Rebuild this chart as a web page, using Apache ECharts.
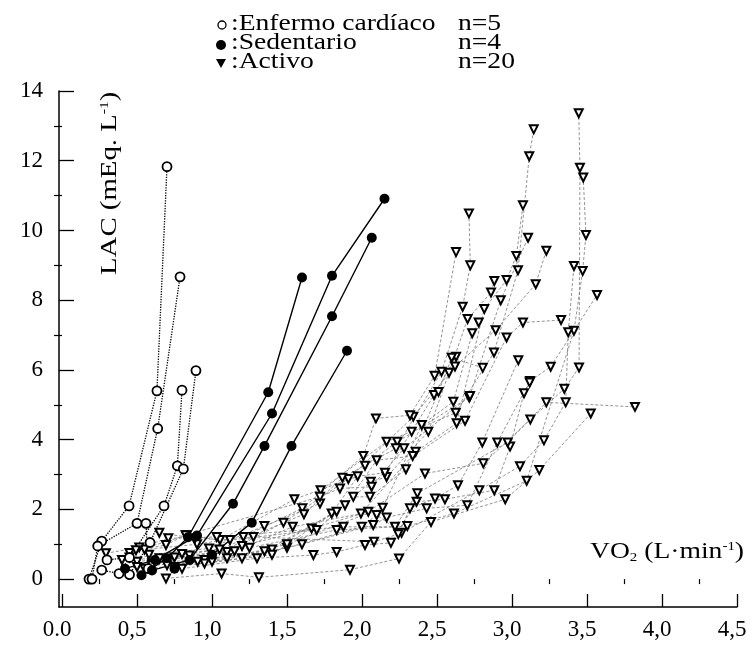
<!DOCTYPE html>
<html>
<head>
<meta charset="utf-8">
<script src="https://cdn.jsdelivr.net/npm/echarts@6/dist/echarts.min.js"></script>
<style>
html, body { margin: 0; padding: 0; background: #fff; }
#main { width: 752px; height: 648px; }
</style>
</head>
<body>
<div id="main"></div>
<script>
// tick labels (comma decimals, as in the figure)
var xTickValues = [0, 0.5, 1, 1.5, 2, 2.5, 3, 3.5, 4, 4.5];
var xTickLabels = ['0.0', '0,5', '1,0', '1,5', '2,0', '2,5', '3,0', '3,5', '4,0', '4,5'];
var xMinorValues = [0.25, 0.75, 1.25, 1.75, 2.25, 2.75, 3.25, 3.75, 4.25];
var yTickValues = [0, 2, 4, 6, 8, 10, 12, 14];
var yMinorValues = [1, 3, 5, 7, 9, 11, 13];

// [VO2, LAC] per subject
var enfermo = [
  [[0.18, 0.00], [0.265, 1.09], [0.447, 2.10], [0.633, 5.40], [0.70, 11.83]],
  [[0.20, 0.00], [0.238, 0.95], [0.50, 1.60], [0.638, 4.32], [0.787, 8.67]],
  [[0.265, 0.26], [0.38, 0.16], [0.68, 2.10], [0.769, 3.25], [0.80, 5.42]],
  [[0.45, 0.13], [0.587, 1.05], [0.809, 3.16], [0.893, 5.98]],
  [[0.30, 0.55], [0.45, 0.62], [0.575, 0.30], [0.56, 1.60]]
];

var sedentario = [
  [[0.42, 0.30], [0.62, 0.55], [0.90, 1.25], [1.40, 4.75], [1.80, 8.70], [2.15, 10.91]],
  [[0.53, 0.11], [0.70, 0.60], [0.84, 1.20], [1.375, 5.36], [1.60, 8.65]],
  [[0.60, 0.25], [0.85, 0.55], [1.14, 2.16], [1.35, 3.82], [1.80, 7.54], [2.065, 9.79]],
  [[0.75, 0.30], [1.00, 0.70], [1.265, 1.62], [1.53, 3.82], [1.90, 6.55]]
];

var activo = [
  [[0.45, 0.62], [0.80, 0.72], [1.20, 0.95], [1.664, 1.45], [2.042, 1.93], [2.42, 3.03], [2.809, 3.32], [3.122, 4.58], [3.349, 5.46], [3.447, 6.07], [3.453, 11.80], [3.445, 13.36]],
  [[0.50, 0.50], [0.85, 0.68], [1.25, 0.90], [1.831, 1.41], [2.302, 1.52], [2.613, 1.88], [3.098, 2.82], [3.413, 7.12], [3.471, 8.84], [3.493, 9.87], [3.475, 11.52]],
  [[0.58, 0.70], [0.98, 0.88], [1.349, 1.52], [1.72, 2.17], [1.724, 2.55], [2.164, 3.94], [2.625, 4.77], [2.88, 6.50], [3.04, 8.86], [3.115, 12.13], [3.145, 12.90]],
  [[0.40, 0.55], [0.75, 0.62], [1.15, 0.80], [1.538, 1.50], [1.993, 1.88], [2.358, 3.65], [2.631, 4.47], [2.815, 7.75], [2.964, 8.58], [3.029, 9.27], [3.073, 10.72]],
  [[0.60, 0.45], [1.00, 0.60], [1.40, 0.85], [1.798, 1.88], [2.02, 3.25], [2.235, 3.94], [2.715, 5.21], [2.925, 8.00], [3.107, 9.79]],
  [[0.70, 0.55], [1.10, 0.78], [1.476, 1.62], [1.909, 2.87], [2.342, 4.66], [2.62, 6.10], [2.891, 7.14], [3.158, 8.46], [3.229, 9.42]],
  [[0.55, 0.85], [0.90, 1.00], [1.209, 1.21], [1.602, 2.03], [2.009, 3.53], [2.093, 4.61], [2.32, 4.70], [2.484, 5.83], [2.627, 9.38]],
  [[0.65, 0.60], [1.05, 0.85], [1.613, 1.86], [1.869, 2.91], [2.227, 3.75], [2.53, 5.95], [2.671, 7.81], [2.722, 9.00], [2.713, 10.49]],
  [[0.50, 0.35], [0.95, 0.55], [1.35, 0.80], [1.831, 1.93], [2.058, 2.79], [2.164, 2.93], [2.442, 4.23], [2.58, 5.92], [2.704, 7.46], [2.86, 8.22], [2.882, 8.55]],
  [[0.60, 0.40], [1.00, 0.50], [1.50, 0.90], [1.998, 1.50], [2.098, 1.84], [2.264, 1.33], [2.782, 2.55], [3.053, 3.24], [3.213, 3.98], [3.358, 5.07], [3.375, 7.08], [3.413, 8.98]],
  [[0.70, 0.40], [1.10, 0.60], [1.50, 1.00], [2.138, 2.05], [2.398, 4.42], [2.609, 5.09], [2.735, 7.05], [2.778, 7.36]],
  [[0.45, 0.75], [0.831, 1.26], [1.053, 1.12], [1.549, 2.29], [1.971, 2.95], [2.153, 3.05], [2.331, 4.23], [2.48, 5.28], [2.627, 6.38]],
  [[0.649, 1.33], [0.887, 1.17], [1.12, 1.12], [1.698, 1.41], [1.942, 2.36], [2.053, 2.36], [2.293, 3.15], [2.51, 5.37], [2.598, 6.35], [2.805, 6.06]],
  [[0.55, 0.30], [0.95, 0.45], [1.40, 0.70], [1.887, 2.12], [2.098, 3.41], [2.338, 3.53], [2.687, 4.54], [2.964, 6.93], [3.073, 7.36], [3.327, 7.43]],
  [[0.75, 0.35], [1.20, 0.60], [1.60, 1.00], [2.075, 1.55], [2.164, 1.77], [2.431, 2.03], [2.702, 2.12], [2.902, 3.92], [3.12, 5.68], [3.258, 6.09], [3.567, 8.15]],
  [[0.80, 0.30], [1.30, 0.60], [1.676, 0.69], [1.831, 0.78], [2.02, 0.98], [2.193, 1.04], [2.364, 2.22], [2.553, 2.29], [2.882, 2.55], [2.987, 3.80], [3.08, 5.33], [3.118, 5.64]],
  [[0.693, 0.02], [1.064, 0.16], [1.313, 0.05], [1.92, 0.27], [2.247, 0.59], [2.46, 1.64], [2.955, 2.29], [3.182, 3.13], [3.525, 4.75]],
  [[0.904, 0.50], [1.276, 1.21], [2.08, 1.07], [2.242, 1.29], [2.32, 2.03], [2.487, 2.31], [2.64, 2.69], [2.802, 3.92], [3.042, 6.28]],
  [[0.293, 0.74], [0.515, 0.91], [0.709, 1.17], [1.031, 1.21], [1.876, 1.50], [2.22, 1.50], [2.369, 2.46], [2.971, 3.92], [3.229, 5.07], [3.82, 4.94]],
  [[0.493, 0.83], [0.693, 0.98], [0.824, 1.26], [1.72, 2.36], [1.853, 2.60], [2.064, 2.65], [2.28, 3.75], [2.72, 5.25]]
];

var serif = '"Liberation Serif", "Times New Roman", Times, serif';
var series = [];

activo.forEach(function (d) {
  series.push({
    type: 'line', data: d, silent: true,
    symbol: 'triangle', symbolRotate: 180, symbolSize: 8,
    lineStyle: { color: '#777', width: 0.8, type: [3, 2] },
    itemStyle: { color: '#fff', borderColor: '#000', borderWidth: 2 }
  });
});
enfermo.forEach(function (d) {
  series.push({
    type: 'line', data: d, silent: true,
    symbol: 'circle', symbolSize: 9,
    lineStyle: { color: '#000', width: 1.3, type: 'dotted' },
    itemStyle: { color: '#fff', borderColor: '#000', borderWidth: 1.8 }
  });
});
sedentario.forEach(function (d) {
  series.push({
    type: 'line', data: d, silent: true,
    symbol: 'circle', symbolSize: 10,
    lineStyle: { color: '#000', width: 1.4 },
    itemStyle: { color: '#000' }
  });
});

var axisCommon = {
  type: 'value',
  splitLine: { show: false },
  axisLine: { onZero: false, lineStyle: { color: '#000', width: 1.5 } }
};

var myChart = echarts.init(document.getElementById('main'));

var option = {
  animation: false,
  backgroundColor: '#fff',
  grid: { left: 59, right: 15, top: 91, bottom: 41 },
  xAxis: [
    Object.assign({}, axisCommon, {
      min: -0.02, max: 4.5,
      axisTick: { inside: true, length: 13, customValues: xTickValues, lineStyle: { color: '#000', width: 1.3 } },
      axisLabel: {
        customValues: xTickValues,
        formatter: function (v) { return xTickLabels[Math.round(v * 2)]; },
        fontFamily: serif, fontSize: 23, color: '#000', margin: 11, padding: [0, 10, 0, 0]
      }
    }),
    Object.assign({}, axisCommon, {
      min: -0.02, max: 4.5,
      axisLine: { show: false },
      axisTick: { inside: true, length: 5, customValues: xMinorValues, lineStyle: { color: '#000', width: 1.2 } },
      axisLabel: { show: false }
    })
  ],
  yAxis: [
    Object.assign({}, axisCommon, {
      min: -0.8, max: 14,
      axisTick: { inside: true, length: 15, customValues: yTickValues, lineStyle: { color: '#000', width: 1.3 } },
      axisLabel: {
        customValues: yTickValues,
        fontFamily: serif, fontSize: 23, color: '#000', margin: 16, padding: [5, 0, 0, 0]
      }
    }),
    Object.assign({}, axisCommon, {
      min: -0.8, max: 14,
      axisLine: { show: false },
      axisTick: { inside: true, length: 8, customValues: yMinorValues, lineStyle: { color: '#000', width: 1.2 } },
      axisLabel: { show: false }
    })
  ],
  graphic: [
    // legend
    { type: 'circle', shape: { cx: 222, cy: 25, r: 4 }, style: { fill: '#fff', stroke: '#000', lineWidth: 1.3 } },
    { type: 'circle', shape: { cx: 221, cy: 45, r: 5 }, style: { fill: '#000' } },
    { type: 'polygon', shape: { points: [[216, 59], [226, 59], [221, 68]] }, style: { fill: '#000' } },
    { type: 'text', x: 231, y: 24, scaleX: 1.2, style: { text: ':Enfermo cardíaco', fontFamily: serif, fontSize: 23, fill: '#000', verticalAlign: 'middle' } },
    { type: 'text', x: 231, y: 43, scaleX: 1.2, style: { text: ':Sedentario', fontFamily: serif, fontSize: 23, fill: '#000', verticalAlign: 'middle' } },
    { type: 'text', x: 231, y: 62, scaleX: 1.2, style: { text: ':Activo', fontFamily: serif, fontSize: 23, fill: '#000', verticalAlign: 'middle' } },
    { type: 'text', x: 458, y: 24, scaleX: 1.2, style: { text: 'n=5', fontFamily: serif, fontSize: 23, fill: '#000', verticalAlign: 'middle' } },
    { type: 'text', x: 458, y: 43, scaleX: 1.2, style: { text: 'n=4', fontFamily: serif, fontSize: 23, fill: '#000', verticalAlign: 'middle' } },
    { type: 'text', x: 458, y: 62, scaleX: 1.2, style: { text: 'n=20', fontFamily: serif, fontSize: 23, fill: '#000', verticalAlign: 'middle' } },
    // axis titles
    {
      type: 'text', x: 110, y: 275, rotation: Math.PI / 2, scaleX: 1.2,
      style: {
        text: '{a|LAC (mEq. L}{s|-1}{a|)}', fill: '#000', verticalAlign: 'middle', align: 'left',
        rich: {
          a: { fontFamily: serif, fontSize: 24, fill: '#000' },
          s: { fontFamily: serif, fontSize: 13, fill: '#000', verticalAlign: 'top' }
        }
      }
    },
    {
      type: 'text', x: 590, y: 552, scaleX: 1.15,
      style: {
        text: '{a|VO}{b|2}{a| (L·min}{s|-1}{a|)}', fill: '#000', verticalAlign: 'middle', align: 'left',
        rich: {
          a: { fontFamily: serif, fontSize: 24, fill: '#000' },
          b: { fontFamily: serif, fontSize: 13, fill: '#000', verticalAlign: 'bottom' },
          s: { fontFamily: serif, fontSize: 13, fill: '#000', verticalAlign: 'top' }
        }
      }
    }
  ],
  series: series
};

option && myChart.setOption(option);
</script>
</body>
</html>
